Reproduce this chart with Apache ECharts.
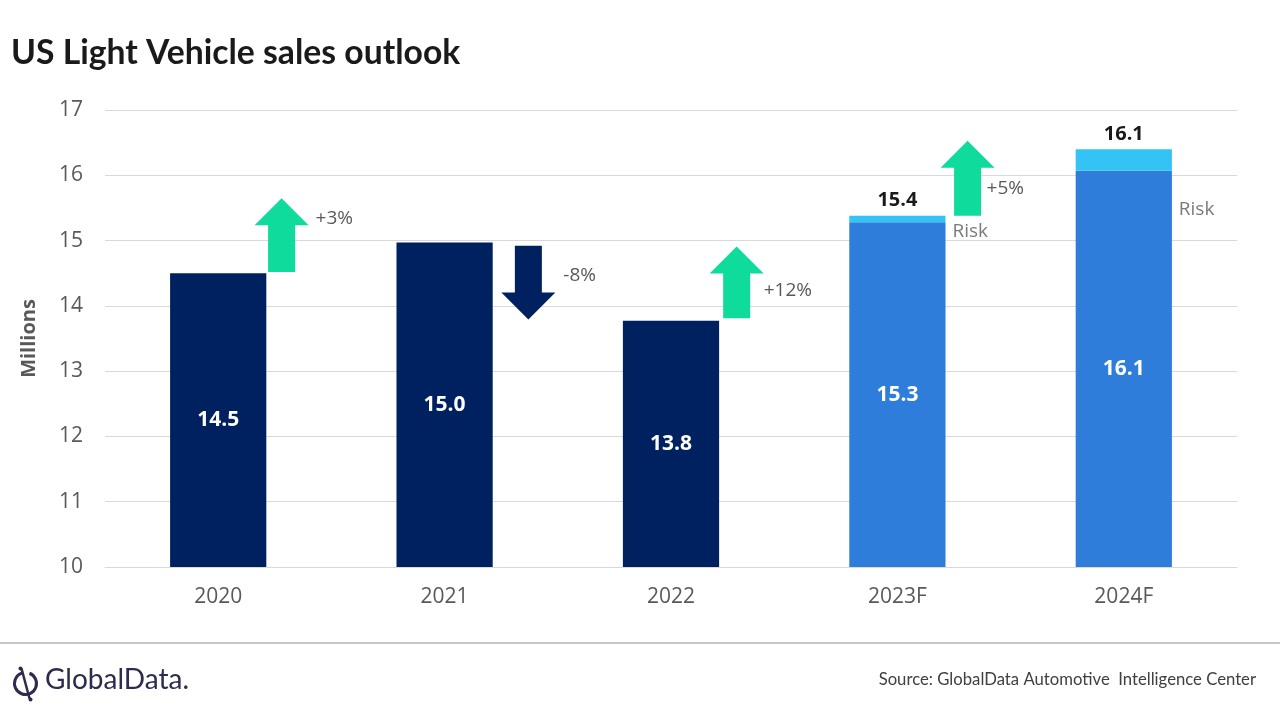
<!DOCTYPE html>
<html>
<head>
<meta charset="utf-8">
<script src="https://cdn.jsdelivr.net/npm/echarts@6/dist/echarts.min.js"></script>
<style>html,body{margin:0;padding:0;background:#fff}#c{width:1280px;height:720px}</style>
</head>
<body>
<div id="c"></div>
<script>
// ---- data ----
const categories = ['2020', '2021', '2022', '2023F', '2024F'];
const salesValues = [14.5, 14.97, 13.77, 15.28, 16.07];
const riskValues = [null, null, null, 0.1, 0.33];
const totalLabels = ['', '', '', '15.4', '16.1'];
const yTicks = [10, 11, 12, 13, 14, 15, 16, 17];
// change arrows
const arrowCats = [0, 1, 2, 3];
const arrowFrom = [14.52, 14.92, 13.81, 15.38];
const arrowTo = [15.65, 13.79, 14.91, 16.53];
const arrowText = ['+3%', '-8%', '+12%', '+5%'];
const arrowLabelLevel = [15.33, 14.47, 14.24, 15.79];
const riskLabelCats = [3, 4];
const riskLabelLevel = [15.14, 15.47];

// ---- styles / layout ----
const NAVY = '#002160';
const BLUE = '#2E7DDB';
const LIGHT = '#33C4F5';
const GREEN = '#0EDB9C';
const GREY = '#595959';
const arrowOffsets = [0.28, 0.37, 0.29, 0.31];
const arrowLabelDx = [34, 35, 27, 19];

const chart = echarts.init(document.getElementById('c'));
const isF = c => /F$/.test(c);

const arrowData = arrowCats.map((c, i) => [c, arrowFrom[i], arrowTo[i], arrowLabelLevel[i], i]);

chart.setOption({
  animation: false,
  title: {
    text: 'US Light Vehicle sales outlook',
    left: 6, top: 31,
    textStyle: { fontFamily: 'Lato', fontWeight: 'bold', fontSize: 33.7, color: '#1a1a1a' }
  },
  grid: { left: 105, right: 43, top: 110, bottom: 153 },
  xAxis: {
    type: 'category', data: categories,
    axisLine: { lineStyle: { color: '#d9d9d9', width: 1 } },
    axisTick: { show: false },
    axisLabel: { color: GREY, fontSize: 21, fontFamily: 'Open Sans', margin: 20 }
  },
  yAxis: {
    type: 'value', min: yTicks[0], max: yTicks[yTicks.length - 1], interval: 1,
    name: 'Millions', nameLocation: 'middle', nameGap: 66, nameRotate: 90,
    nameTextStyle: { color: GREY, fontSize: 20, fontWeight: 'bold', fontFamily: 'Open Sans' },
    axisLine: { show: false }, axisTick: { show: false },
    axisLabel: { color: GREY, fontSize: 21, fontFamily: 'Open Sans', margin: 22 },
    splitLine: { lineStyle: { color: '#d9d9d9', width: 1 } }
  },
  series: [
    {
      type: 'bar', stack: 's', barWidth: '42.5%',
      data: salesValues.map((v, i) => ({ value: v, itemStyle: { color: isF(categories[i]) ? BLUE : NAVY } })),
      label: {
        show: true, position: 'inside', color: '#fff', fontWeight: 'bold', fontSize: 21, fontFamily: 'Open Sans',
        formatter: p => p.value.toFixed(1)
      }
    },
    {
      type: 'bar', stack: 's', barWidth: '42.5%',
      itemStyle: { color: LIGHT },
      data: riskValues,
      label: {
        show: true, position: 'top', distance: 5, color: '#1a1a1a', fontWeight: 'bold', fontSize: 20, fontFamily: 'Open Sans',
        formatter: p => totalLabels[p.dataIndex]
      }
    },
    {
      type: 'scatter', symbolSize: 0, silent: true,
      data: riskLabelCats.map((c, i) => [c, riskLabelLevel[i]]),
      label: {
        show: true, position: 'right', distance: 55, formatter: 'Risk',
        color: GREY, fontSize: 19, fontFamily: 'Open Sans'
      }
    },
    {
      type: 'custom', silent: true, clip: false,
      encode: { x: 0, y: [1, 2] },
      data: arrowData,
      renderItem: (params, api) => {
        const idx = api.value(0);
        const k = api.value(4);
        const band = api.size([1, 0])[0];
        const x = api.coord([idx, 0])[0] + band * arrowOffsets[k];
        const y1 = api.coord([idx, api.value(1)])[1];
        const y2 = api.coord([idx, api.value(2)])[1];
        const yl = api.coord([idx, api.value(3)])[1];
        const sw = 27, hw = 54, hh = 27;
        const dir = y2 > y1 ? 1 : -1;
        const yh = y2 - dir * hh;
        const color = dir > 0 ? NAVY : GREEN;
        return {
          type: 'group',
          children: [
            {
              type: 'polygon',
              shape: { points: [[x - sw / 2, y1], [x + sw / 2, y1], [x + sw / 2, yh], [x + hw / 2, yh], [x, y2], [x - hw / 2, yh], [x - sw / 2, yh]] },
              style: { fill: color }
            },
            {
              type: 'text',
              x: x + arrowLabelDx[k], y: yl,
              style: { text: arrowText[k], fill: GREY, fontSize: 19, fontFamily: 'Open Sans', align: 'left', verticalAlign: 'middle' }
            }
          ]
        };
      }
    }
  ],
  graphic: [
    { type: 'rect', left: 0, top: 642, shape: { width: 1280, height: 2 }, style: { fill: '#c8c8c8' } },
    {
      type: 'group', left: 12, top: 666,
      children: [
        { type: 'arc', shape: { cx: 15, cy: 17, r: 11, startAngle: -1.2, endAngle: 4.4 }, style: { stroke: '#2d2b4e', lineWidth: 3, fill: null } },
        { type: 'line', shape: { x1: 11, y1: 2, x2: 19, y2: 32 }, style: { stroke: '#2d2b4e', lineWidth: 2.5 } },
        { type: 'circle', shape: { cx: 10, cy: 2, r: 2 }, style: { fill: '#2d2b4e' } },
        { type: 'circle', shape: { cx: 20, cy: 33, r: 2 }, style: { fill: '#2d2b4e' } }
      ]
    },
    {
      type: 'text', left: 45, top: 666,
      style: { text: 'GlobalData.', fill: '#2d2b4e', fontSize: 28, fontFamily: 'Lato', fontWeight: 'normal' }
    },
    {
      type: 'text', right: 24, top: 671,
      style: { text: 'Source: GlobalData Automotive  Intelligence Center', fill: '#404040', fontSize: 16.7, fontFamily: 'Lato' }
    }
  ]
});
</script>
</body>
</html>
